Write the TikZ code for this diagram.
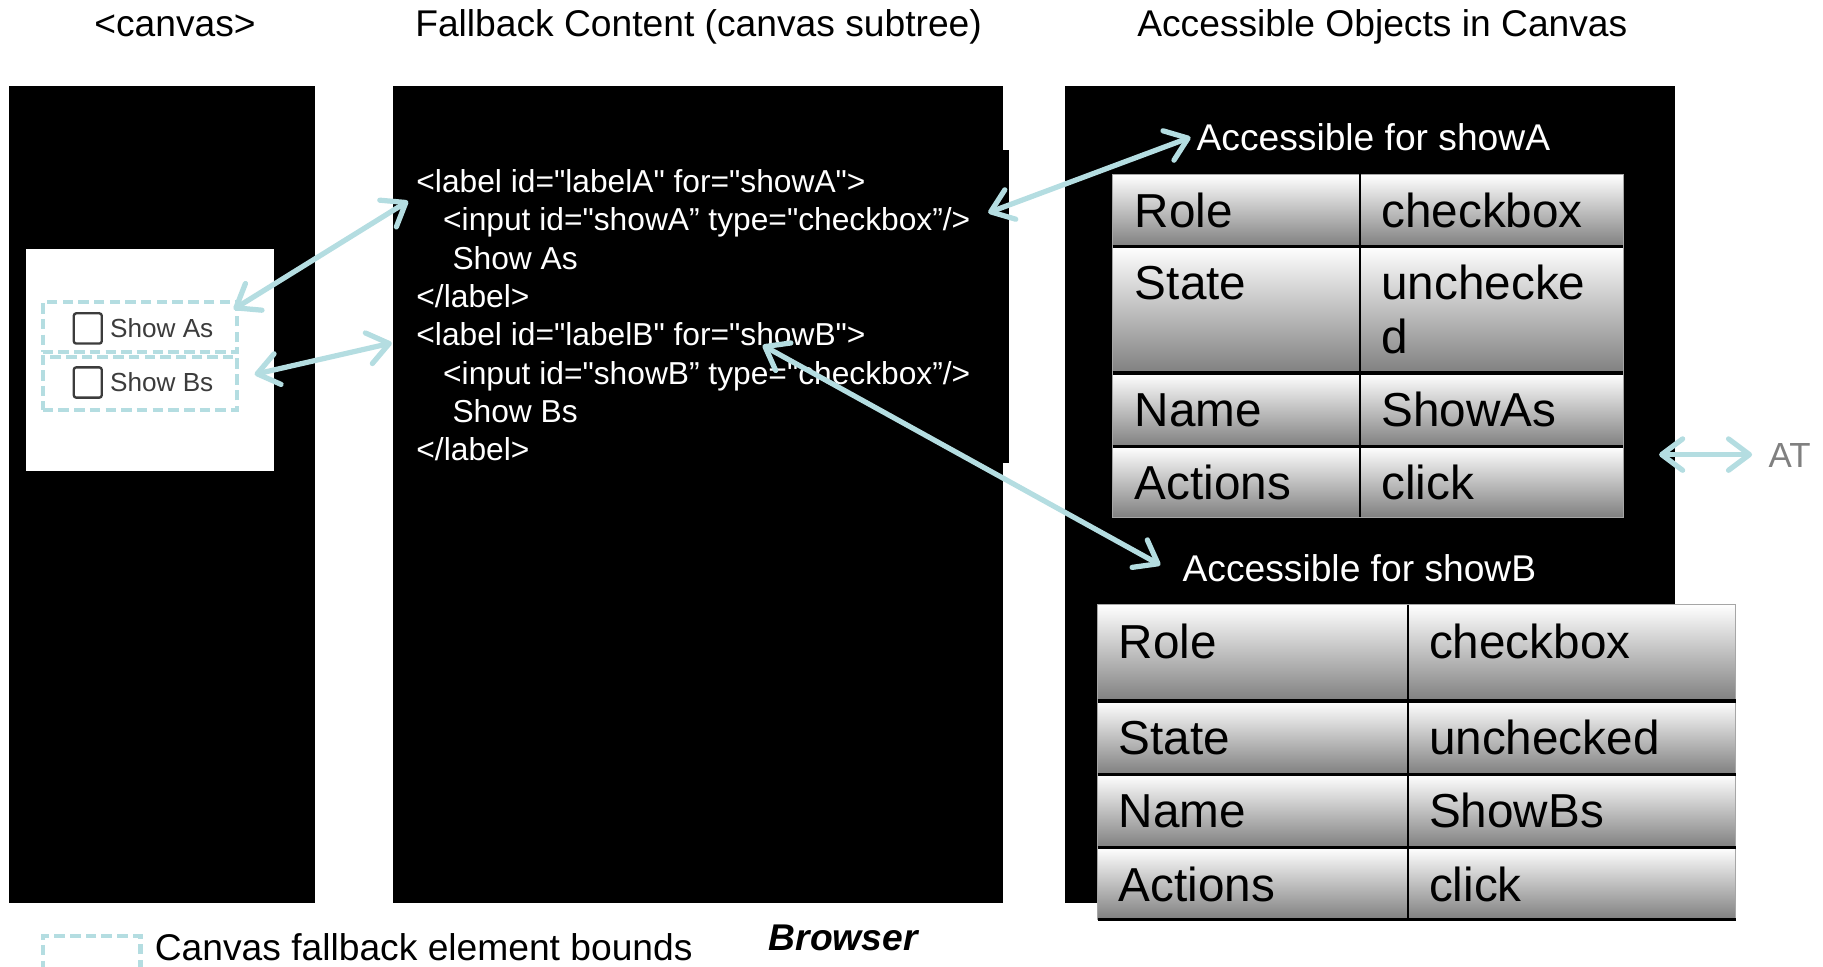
\documentclass[tikz,border=0pt]{standalone}
\usepackage{fontspec}
\setmainfont{Liberation Sans}
\newfontfamily\codefont{Liberation Sans}
\usepackage{tikz}
\usetikzlibrary{arrows.meta}
\usetikzlibrary{positioning}
\definecolor{linkblue}{HTML}{B4DDE1}
\definecolor{widgetgray}{HTML}{3C3C3C}
\tikzset{
    panel/.style={fill=black},
    link/.style={draw=linkblue, line width=4.5pt, line cap=round,
        {Straight Barb[length=18pt,width=27pt,round]}-{Straight Barb[length=18pt,width=27pt,round]}},
    fallback/.style={draw=linkblue, line width=3.6pt, dash pattern=on 9pt off 4.5pt, inner sep=0pt},
    title/.style={font=\fontsize{32}{38}\selectfont, anchor=base west, inner sep=0pt},
    code/.style={font=\codefont\fontsize{27.3}{33}\selectfont, text=white, anchor=base west, inner sep=0pt},
    acclabel/.style={font=\fontsize{32}{38}\selectfont, text=white, anchor=base west, inner sep=0pt},
    cell/.style={top color=white, bottom color=black!50, draw=black!35, line width=0.8pt},
    celltext/.style={font=\fontsize{41}{46}\selectfont, anchor=base west, inner sep=0pt},
    rowline/.style={draw=black, line width=3pt},
    colline/.style={draw=black, line width=2pt},
    checkbox/.style={draw=widgetgray, line width=2pt, rounded corners=2pt,
        minimum width=24pt, minimum height=26pt, inner sep=0pt},
    widgettext/.style={font=\fontsize{22.5}{26}\selectfont, text=widgetgray, inner sep=0pt},
}
\begin{document}
\begin{tikzpicture}[x=1pt, y=-1pt]
    \useasboundingbox (0,0) rectangle (1568,831.7);
    % titles
    \node[title, anchor=base] (t-canvas) at (150.5,31) {<canvas>};
    \node[title] (t-fallback) at (357,31) {Fallback Content (canvas subtree)};
    \node[title] (t-objects) at (978,31) {Accessible Objects in Canvas};

    % the three panels
    \fill[panel] (8,74) rectangle (271,777);
    \fill[panel] (338,74) rectangle (863,777);
    \fill[panel] (863,129) rectangle (868,398);
    \fill[panel] (916,74) rectangle (1441,777);

    % rendered canvas
    \fill[white] (22,214) rectangle (236,405);
    \node[fallback, anchor=north west, minimum width=167pt, minimum height=43pt] (boxA) at (35,258) {};
    \node[fallback, anchor=north west, minimum width=167pt, minimum height=46pt] (boxB) at (35,305) {};
    \node[checkbox] (chkA) at (75.5,282.5) {};
    \node[checkbox] (chkB) at (75.5,329) {};
    \node[widgettext, right=6pt of chkA] (showA) {Show As};
    \node[widgettext, right=6pt of chkB] (showB) {Show Bs};

    % fallback content
    \foreach \cx/\txt [count=\i] in {358/{<label id="labelA" for="showA">},
            381/{<input id="showA” type="checkbox”/>}, 389/{Show As}, 358/{</label>},
            358/{<label id="labelB" for="showB">},
            381/{<input id="showB” type="checkbox”/>}, 389/{Show Bs}, 358/{</label>}}
        \node[code] (code\i) at (\cx,132.5+33*\i) {\txt};

    % accessible object for showA
    \node[acclabel] (accA) at (1029,129.5) {Accessible for showA};
    \foreach \ya/\yb/\key/\val in {150/212/Role/checkbox, 212/321/State/unchecke,
            321/384/Name/ShowAs, 384/445/Actions/click} {
        \path[cell] (957,\ya) rectangle (1170,\yb);
        \path[cell] (1170,\ya) rectangle (1396,\yb);
        \node[celltext] (a-\key) at (976,\ya+46) {\key};
        \node[celltext] (a-\key-val) at (1188,\ya+46) {\val};
    }
    \node[celltext] (a-State-val2) at (1188,304) {d};
    \foreach \y in {212,321,384}
        \draw[rowline] (957,\y) -- (1396,\y);
    \draw[colline] (1170,150) -- (1170,445);

    % accessible object for showB
    \node[acclabel] (accB) at (1017,500) {Accessible for showB};
    \foreach \ya/\yb/\key/\val in {520/603/Role/checkbox, 603/666/State/unchecked,
            666/729/Name/ShowBs, 729/791/Actions/click} {
        \path[cell] (944,\ya) rectangle (1211,\yb);
        \path[cell] (1211,\ya) rectangle (1493,\yb);
        \node[celltext] (b-\key) at (962,\ya+46) {\key};
        \node[celltext] (b-\key-val) at (1229,\ya+46) {\val};
    }
    \foreach \y in {603,666,729,791}
        \draw[rowline] (944,\y) -- (1493,\y);
    \draw[colline] (1211,520) -- (1211,791);

    % AT
    \node[font=\fontsize{30}{36}\selectfont, text=black!50, anchor=base west, inner sep=0pt] (at) at (1521,402) {AT};
    \coordinate (atL) at (1427,391);
    \coordinate (atR) at (1507,391);

    % links
    \coordinate (canvasA) at (201,266);
    \coordinate (codeA) at (351,173);
    \coordinate (canvasB) at (219,322);
    \coordinate (codeB) at (337,295);
    \coordinate (inputA) at (850,183);
    \coordinate (forB) at (656,297);
    \coordinate (objB) at (998,486);
    \draw[link] (canvasA) -- (codeA);
    \draw[link] (canvasB) -- (codeB);
    \draw[link] (inputA) -- ([xshift=-5pt]accA.west);
    \draw[link] (forB) -- (objB);
    \draw[link] (atL) -- (atR);

    % legend
    \node[fallback, anchor=north west, minimum width=84pt, minimum height=40pt] (legendbox) at (35,803) {};
    \node[title] (legend) at (133,826) {Canvas fallback element bounds};
    \node[title, font=\fontsize{32}{38}\selectfont\bfseries\itshape] (browser) at (661,817.5) {Browser};
\end{tikzpicture}
\end{document}
